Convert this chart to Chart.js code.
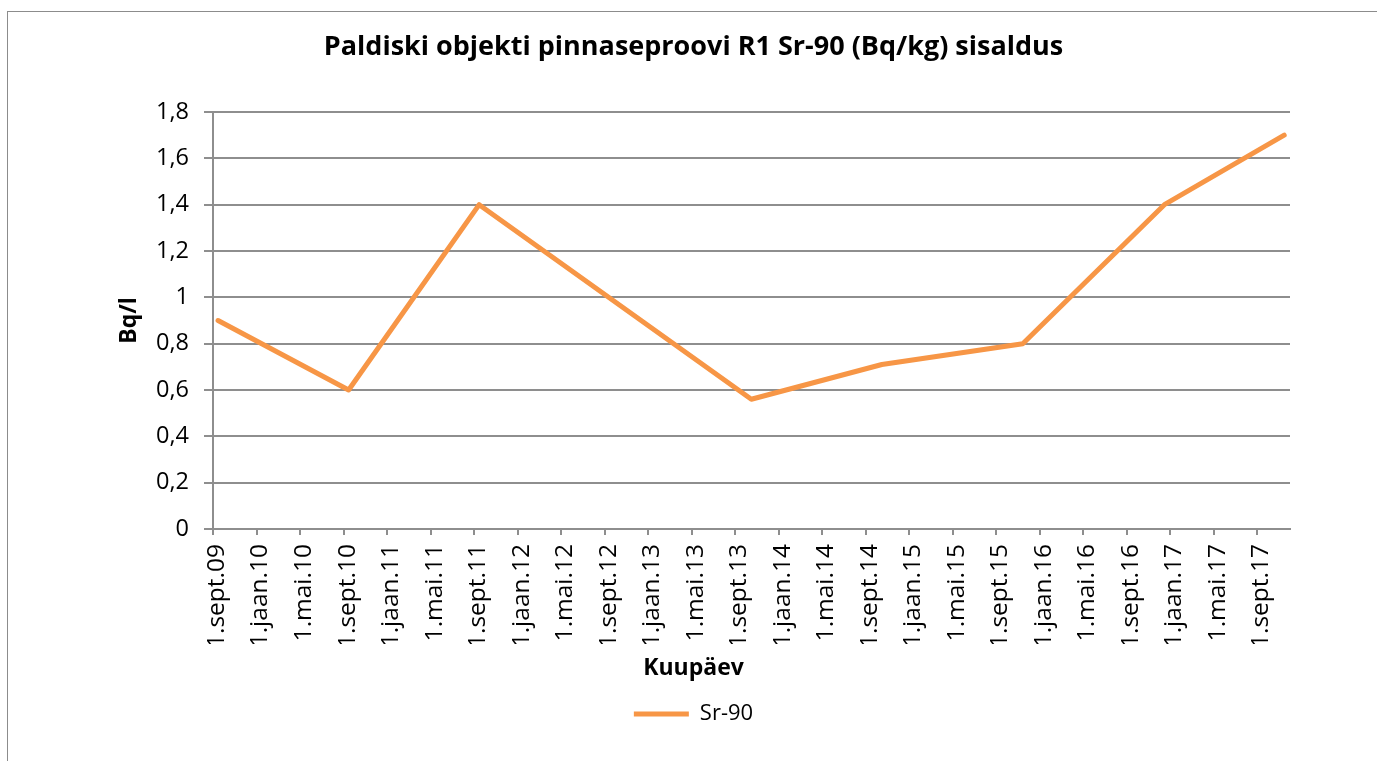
<!DOCTYPE html>
<html>
<head>
<meta charset="utf-8">
<script src="https://cdn.jsdelivr.net/npm/chart.js@4/dist/chart.umd.min.js"></script>
<style>
  html, body { margin: 0; padding: 0; background: #fff; overflow: hidden; }
  #frame { position: absolute; left: 7px; top: 11px; width: 1400px; height: 800px; border: 1px solid #8c8c8c; }
  #srChart { position: absolute; left: 0; top: 0; }
</style>
</head>
<body>
<div id="frame"></div>
<canvas id="srChart" width="1377" height="761"></canvas>
<script>
// sampling dates and Sr-90 results
const sampleDates = ['2009-09-15', '2010-09-15', '2011-09-15', '2013-10-16', '2014-10-16', '2015-11-14', '2016-12-15', '2017-11-15'];
const sr90Values = [0.9, 0.6, 1.4, 0.56, 0.71, 0.8, 1.4, 1.7];

// x axis labels, one every 4 months starting 1.sept.09
const tickLabels = [
    '1.sept.09', '1.jaan.10', '1.mai.10', '1.sept.10', '1.jaan.11', '1.mai.11', '1.sept.11',
    '1.jaan.12', '1.mai.12', '1.sept.12', '1.jaan.13', '1.mai.13', '1.sept.13',
    '1.jaan.14', '1.mai.14', '1.sept.14', '1.jaan.15', '1.mai.15', '1.sept.15',
    '1.jaan.16', '1.mai.16', '1.sept.16', '1.jaan.17', '1.mai.17', '1.sept.17'
];
const yTicks = [0, 0.2, 0.4, 0.6, 0.8, 1, 1.2, 1.4, 1.6, 1.8];

// axis runs in months counted from 1.sept.09
function toMonths(s) {
    const [y, m, d] = s.split('-').map(Number);
    const days = new Date(y, m, 0).getDate();
    return (y - 2009) * 12 + (m - 9) + (d - 1) / days;
}

const FONT = "'Open Sans', sans-serif";
const GRID = '#8e8e8e';
Chart.defaults.color = '#000';
Chart.defaults.font.family = FONT;

const points = sampleDates.map((d, i) => ({ x: toMonths(d), y: sr90Values[i] }));

new Chart(document.getElementById('srChart').getContext('2d'), {
    type: 'line',
    data: {
        datasets: [{
            label: 'Sr-90',
            data: points,
            borderColor: '#f79646',
            backgroundColor: '#f79646',
            borderWidth: 5,
            borderJoinStyle: 'round',
            borderCapStyle: 'round',
            pointRadius: 0,
            pointStyle: 'line',
            tension: 0,
            fill: false
        }]
    },
    options: {
        responsive: false,
        animation: false,
        layout: { padding: { top: 0, left: 10, right: 0, bottom: 26 } },
        plugins: {
            title: {
                display: true,
                text: 'Paldiski objekti pinnaseproovi R1 Sr-90 (Bq/kg) sisaldus',
                font: { family: FONT, size: 27, weight: 'bold' },
                padding: { top: 30.8, bottom: 48.8 }
            },
            subtitle: {
                display: true,
                position: 'bottom',
                weight: 500,
                text: 'Kuupäev',
                font: { family: FONT, size: 23, weight: 'bold' },
                padding: { top: 10.2, bottom: 11.2 }
            },
            legend: {
                position: 'bottom',
                labels: {
                    usePointStyle: true,
                    pointStyle: 'line',
                    pointStyleWidth: 55,
                    padding: 10,
                    font: { family: FONT, size: 22 }
                }
            },
            tooltip: { enabled: false }
        },
        scales: {
            x: {
                type: 'linear',
                min: 0,
                max: 99,
                afterBuildTicks: s => { s.ticks = tickLabels.map((_, i) => ({ value: i * 4 })); },
                afterFit: s => { s.height = 115; },
                ticks: {
                    autoSkip: false,
                    minRotation: 90,
                    maxRotation: 90,
                    padding: 9,
                    labelOffset: 4,
                    font: { family: FONT, size: 24.5 },
                    callback: v => tickLabels[Math.round(v / 4)]
                },
                grid: { drawOnChartArea: false, drawTicks: true, tickLength: 6, color: GRID, lineWidth: 2 },
                border: { color: GRID, width: 2 }
            },
            y: {
                min: 0,
                max: 1.8,
                afterBuildTicks: s => { s.ticks = yTicks.map(v => ({ value: v })); },
                afterFit: s => { s.width = 203; },
                ticks: {
                    padding: 15,
                    font: { family: FONT, size: 23.5 },
                    callback: v => String(Math.round(v * 10) / 10).replace('.', ',')
                },
                grid: { color: GRID, lineWidth: 2, tickLength: 9 },
                border: { color: GRID, width: 2 },
                title: {
                    display: true,
                    text: 'Bq/l',
                    font: { family: FONT, size: 23, weight: 'bold' },
                    padding: { top: 106, bottom: 0 }
                }
            },
            // empty strip on the right of the plot
            spacer: {
                type: 'linear',
                position: 'right',
                afterFit: s => { s.width = 87; },
                ticks: { display: false },
                grid: { display: false },
                border: { display: false }
            }
        }
    }
});
</script>
</body>
</html>
